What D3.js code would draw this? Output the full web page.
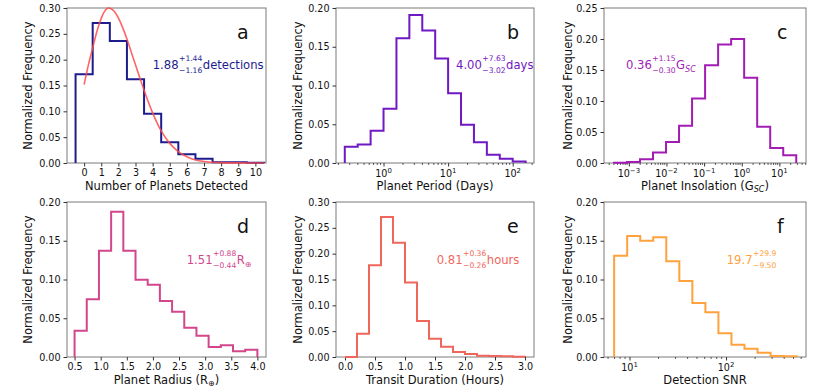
<!DOCTYPE html>
<html><head><meta charset="utf-8">
<script src="https://cdn.jsdelivr.net/npm/d3@7"></script>
<style>body{margin:0;background:#fff}svg{display:block}text{font-family:"DejaVu Sans",sans-serif}</style>
</head><body><svg id="c" width="830" height="388"></svg>
<script>
// ---------- data ----------
const aEdges = [-0.5,0.5,1.5,2.5,3.5,4.5,5.5,6.5,7.5,8.5,9.5,10.5];
const aValues = [0.172,0.271,0.236,0.162,0.0955,0.040,0.0168,0.0084,0.0015,0.0015,0.0005];
const aCurveX = [0,0.25,0.5,0.75,1,1.25,1.4,1.6,1.8,2,2.25,2.5,2.75,3,3.25,3.5,3.75,4,4.5,5,5.5,6,6.5,7,8,9,10.5];
const aCurveY = [0.152,0.19,0.223,0.255,0.28,0.296,0.300,0.298,0.292,0.281,0.262,0.240,0.215,0.190,0.165,0.141,0.118,0.097,0.062,0.038,0.022,0.012,0.006,0.003,0.0008,0.0002,0];
const aXTicks = [0,1,2,3,4,5,6,7,8,9,10];

const bEdgeExp = [-0.6,-0.4,-0.2,0,0.2,0.4,0.6,0.8,1.0,1.2,1.4,1.6,1.8,2.0,2.2];
const bValues = [0.021,0.024,0.0417,0.070,0.161,0.191,0.171,0.135,0.090,0.0495,0.0267,0.0108,0.0056,0.002];
const bXTicks = [1,10,100];

const cEdgeExp = [-3.396,-3.05,-2.704,-2.358,-2.012,-1.666,-1.32,-0.974,-0.628,-0.282,0.064,0.41,0.756,1.102,1.448];
const cValues = [0.0003,0.0016,0.006,0.017,0.034,0.060,0.104,0.1575,0.191,0.200,0.1376,0.0586,0.0242,0.0124];
const cXTicks = [0.001,0.01,0.1,1,10];

const dEdges = [0.5,0.7333,0.9667,1.2,1.4333,1.6667,1.9,2.1333,2.3667,2.6,2.8333,3.0667,3.3,3.5333,3.7667,4.0];
const dValues = [0.034,0.0744,0.137,0.1875,0.137,0.0998,0.0933,0.0723,0.0585,0.0379,0.0275,0.0129,0.0151,0.0073,0.0095];
const dXTicks = [0.5,1.0,1.5,2.0,2.5,3.0,3.5,4.0];

const eEdges = [0,0.2,0.4,0.6,0.8,1.0,1.2,1.4,1.6,1.8,2.0,2.2,2.4,2.6,2.8,3.0];
const eValues = [0,0.0452,0.1774,0.271,0.221,0.144,0.0697,0.0355,0.020,0.0097,0.0058,0.0026,0.002,0.0013,0.0006];
const eXTicks = [0.0,0.5,1.0,1.5,2.0,2.5,3.0];

const fEdgeExp = [0.841,0.976,1.111,1.246,1.381,1.516,1.651,1.786,1.921,2.056,2.191,2.326,2.461,2.596,2.731];
const fValues = [0.1307,0.156,0.150,0.1544,0.1234,0.098,0.0697,0.0576,0.0305,0.0159,0.0108,0.0056,0.0013,0.0009];
const fXTicks = [10,100];

const yTicks30 = [0,0.05,0.10,0.15,0.20,0.25,0.30];
const yTicks25 = [0,0.05,0.10,0.15,0.20,0.25];
const yTicks20 = [0,0.05,0.10,0.15,0.20];

const panelLetters = ["a","b","c","d","e","f"];
const xLabels = ["Number of Planets Detected","Planet Period (Days)","Planet Insolation (G|SC)","Planet Radius (R|⊕)","Transit Duration (Hours)","Detection SNR"];
const annMain = ["1.88","4.00","0.36","1.51","0.81","19.7"];
const annPlus = ["+1.44","+7.63","+1.15","+0.88","+0.36","+29.9"];
const annMinus = ["−1.16","−3.02","−0.30","−0.44","−0.26","−9.50"];
const annUnit = ["detections","days","G|SC","R|⊕","hours",""];
const colors = ["#1c1c8e","#6f18c4","#a21cb4","#d2468c","#ef665a","#ffa13c"];

// ---------- layout ----------
const svg = d3.select("#c");
const cols = [[67,266],[336,534],[604,806]];
const rows = [[8,163],[202,357]];
const ylabX = [28,298,568];
const annXY = [[152.7,69],[456,69],[626,69],[186.7,264],[436.7,264],[726.7,264]];
const letterXY = [[237,39],[507,39],[777,39],[237,233],[507,233],[777,233]];

const panels = [
  {edges:aEdges, values:aValues, log:false, dom:[-1,10.62], ticks:aXTicks, fmt:d=>String(d), yt:yTicks30, ymax:0.30},
  {edges:bEdgeExp.map(e=>Math.pow(10,e)), values:bValues, log:true, dom:[Math.pow(10,-0.736),Math.pow(10,2.33)], ticks:bXTicks, yt:yTicks20, ymax:0.20},
  {edges:cEdgeExp.map(e=>Math.pow(10,e)), values:cValues, log:true, dom:[Math.pow(10,-3.66),Math.pow(10,1.707)], ticks:cXTicks, yt:yTicks25, ymax:0.25},
  {edges:dEdges, values:dValues, log:false, dom:[0.355,4.165], ticks:dXTicks, fmt:d3.format(".1f"), yt:yTicks20, ymax:0.20},
  {edges:eEdges, values:eValues, log:false, dom:[-0.15,3.15], ticks:eXTicks, fmt:d3.format(".1f"), yt:yTicks30, ymax:0.30},
  {edges:fEdgeExp.map(e=>Math.pow(10,e)), values:fValues, log:true, dom:[Math.pow(10,0.736),Math.pow(10,2.828)], ticks:fXTicks, yt:yTicks20, ymax:0.20}
];

const TICK_FS = 9.6, LAB_FS = 11.5, ANN_FS = 11.6, SUP_FS = 7.6;

function richText(g, x, y, str, fs, color, anchor){
  const t = g.append("text").attr("x",x).attr("y",y).attr("font-size",fs).attr("fill",color).attr("text-anchor",anchor||"start");
  const parts = str.split("|");
  if(parts.length===1){ t.text(str); return t; }
  const base = parts[0];
  let sub = parts[1], tail = "";
  const ci = sub.indexOf(")");
  if(ci>=0){ tail = sub.slice(ci); sub = sub.slice(0,ci); }
  t.append("tspan").text(base);
  const s = t.append("tspan").attr("font-size",fs*0.7).attr("dy",fs*0.22).text(sub);
  if(sub==="SC") s.attr("font-style","italic");
  if(tail) t.append("tspan").attr("dy",-fs*0.22).attr("font-size",fs).text(tail);
  return t;
}

panels.forEach((p,i)=>{
  const col = i%3, row = Math.floor(i/3);
  const [x0,x1] = cols[col], [y0,y1] = rows[row];
  const g = svg.append("g");
  const x = (p.log? d3.scaleLog(): d3.scaleLinear()).domain(p.dom).range([x0,x1]);
  const y = d3.scaleLinear().domain([0,p.ymax]).range([y1,y0]);
  const color = colors[i];

  g.append("rect").attr("x",x0).attr("y",y0).attr("width",x1-x0).attr("height",y1-y0)
    .attr("fill","none").attr("stroke","#7a7a7a").attr("stroke-width",1);

  const ya = g.append("g").attr("transform",`translate(${x0},0)`)
    .call(d3.axisLeft(y).tickValues(p.yt).tickFormat(d3.format(".2f")).tickSize(3.5).tickPadding(3));
  ya.select(".domain").remove();
  ya.selectAll("line").attr("stroke","#333");
  ya.selectAll("text").attr("font-size",TICK_FS).attr("fill","#111").attr("font-family","DejaVu Sans");

  const xa = g.append("g").attr("transform",`translate(0,${y1})`);
  if(!p.log){
    xa.call(d3.axisBottom(x).tickValues(p.ticks).tickFormat(p.fmt).tickSize(3.5).tickPadding(3));
    xa.selectAll("text").attr("font-size",TICK_FS).attr("fill","#111").attr("font-family","DejaVu Sans");
  } else {
    const lo = Math.floor(Math.log10(p.dom[0])), hi = Math.ceil(Math.log10(p.dom[1]));
    const minors = [];
    for(let k=lo;k<=hi;k++) for(let m=2;m<=9;m++){ const v=m*Math.pow(10,k); if(v>=p.dom[0]&&v<=p.dom[1]) minors.push(v); }
    xa.selectAll("line.minor").data(minors).join("line").attr("class","minor")
      .attr("x1",d=>x(d)).attr("x2",d=>x(d)).attr("y1",0).attr("y2",2).attr("stroke","#333").attr("stroke-width",0.8);
    xa.call(d3.axisBottom(x).tickValues(p.ticks).tickFormat("").tickSize(3.5));
    xa.selectAll("text").remove();
    p.ticks.forEach(v=>{
      const e = Math.round(Math.log10(v));
      const t = xa.append("text").attr("x",x(v)).attr("y",14).attr("text-anchor","middle")
        .attr("font-size",TICK_FS).attr("fill","#111");
      t.append("tspan").text("10");
      t.append("tspan").attr("dy",-4).attr("font-size",TICK_FS*0.72).text(e<0?"−"+(-e):String(e));
    });
  }
  xa.select(".domain").remove();
  xa.selectAll("line").attr("stroke","#333");

  richText(g, (x0+x1)/2, y1+26.5, xLabels[i], LAB_FS, "#111", "middle");
  g.append("text").attr("transform",`translate(${ylabX[col]+4},${(y0+y1)/2}) rotate(-90)`)
    .attr("text-anchor","middle").attr("font-size",LAB_FS).attr("fill","#111").text("Normalized Frequency");

  const pts = [[p.edges[0],0]];
  p.values.forEach((v,k)=>{ pts.push([p.edges[k],v]); pts.push([p.edges[k+1],v]); });
  pts.push([p.edges[p.edges.length-1],0]);
  g.append("path").attr("d",d3.line().x(d=>x(d[0])).y(d=>y(d[1]))(pts))
    .attr("fill","none").attr("stroke",color).attr("stroke-width",2).attr("stroke-linejoin","miter");

  if(i===0){
    const cp = aCurveX.map((v,k)=>[v,aCurveY[k]]);
    g.append("path").attr("d",d3.line().curve(d3.curveMonotoneX).x(d=>x(d[0])).y(d=>y(d[1]))(cp))
      .attr("fill","none").attr("stroke","#ff4a4a").attr("stroke-opacity",0.85).attr("stroke-width",1.6);
  }

  const [ax,ay] = annXY[i];
  const mt = g.append("text").attr("x",ax).attr("y",ay).attr("font-size",ANN_FS).attr("fill",color).text(annMain[i]);
  const mw = mt.node().getComputedTextLength();
  const st = g.append("text").attr("x",ax+mw+0.5).attr("y",ay-8.5).attr("font-size",SUP_FS).attr("fill",color).text(annPlus[i]);
  const bt = g.append("text").attr("x",ax+mw+0.5).attr("y",ay+4.3).attr("font-size",SUP_FS).attr("fill",color).text(annMinus[i]);
  const sw = Math.max(st.node().getComputedTextLength(), bt.node().getComputedTextLength());
  if(annUnit[i]) richText(g, ax+mw+sw+1, ay, annUnit[i], ANN_FS, color, "start");

  g.append("text").attr("x",letterXY[i][0]).attr("y",letterXY[i][1]).attr("font-size",19).attr("fill","#111").text(panelLetters[i]);
});
</script></body></html>
